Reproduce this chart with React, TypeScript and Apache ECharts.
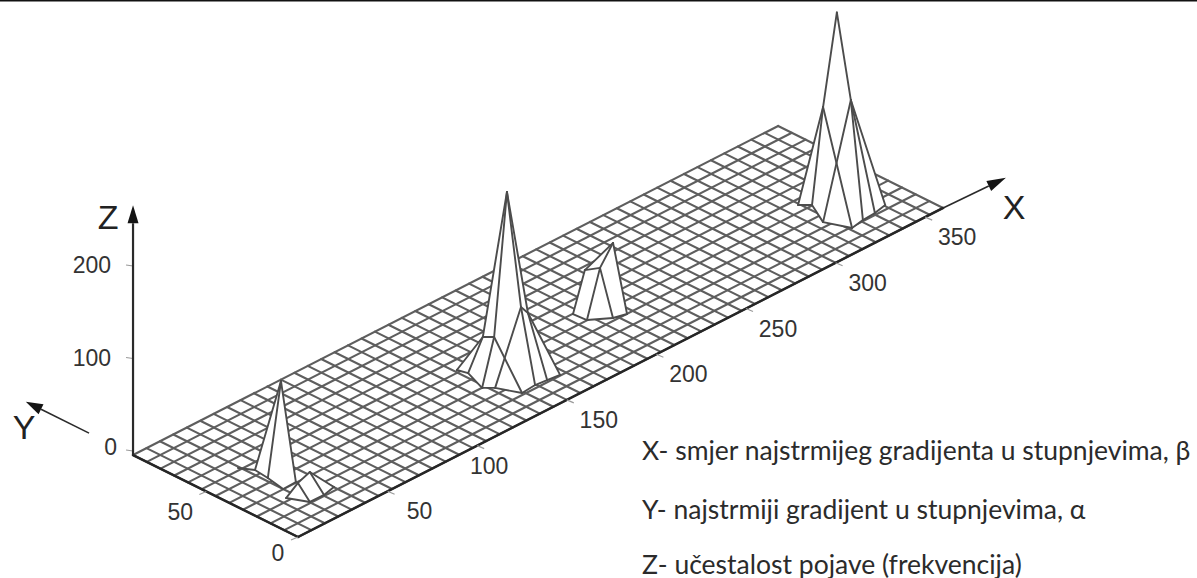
import React, { useEffect, useRef } from "react";
import * as echarts from "echarts";

// ---- axis values (degrees, degrees, frequency) ----
const xTicks = [50, 100, 150, 200, 250, 300, 350];
const yTicks = [0, 50];
const zTicks = [0, 100, 200];
const xMax = 360;
const yMax = 90;
const meshStep = 7.5;

const noteLines = [
  "X- smjer najstrmijeg gradijenta u stupnjevima, β",
  "Y- najstrmiji gradijent u stupnjevima, α",
  "Z- učestalost pojave (frekvencija)",
];

// ---- peaks: vertices are [x, y, z] in data units ----
type V = [number, number, number];
const peak1: V[] = [
  [35.2, 43.7, 90.8], [25.3, 48.2, 0], [24.4, 40.3, 0], [22.5, 30.1, 0], [29.9, 30.4, 0], [21.7, 54, 0],
];
const peak1Outline = [0, 4, 3, 2, 1];
const peak1Edges = [[0, 1], [0, 2], [0, 4], [1, 2], [2, 3], [3, 4], [5, 1]];

const peak1b: V[] = [
  [29.3, 22.2, 19.5], [23.3, 22.8, 13], [18.3, 24.4, 0], [22.7, 15.7, 0], [30.5, 15.6, 0], [37.6, 17.2, 0],
];
const peak1bOutline = [0, 5, 4, 3, 2, 1];
const peak1bEdges = [[0, 1], [1, 2], [1, 3], [0, 4], [0, 5], [2, 3], [3, 4], [4, 5]];

const peak2: V[] = [
  [161.2, 43.6, 170.8], [146.2, 42.1, 30.3], [152.1, 41.7, 24.9], [167.8, 42.4, 41.1], [172.5, 43.2, 29.2],
  [136.3, 46.6, 0], [137.7, 41.8, 0], [133.3, 29.9, 0], [136.9, 26.3, 0], [141.5, 16.1, 0],
  [149.5, 16.8, 0], [155.6, 16.2, 0], [162, 15.4, 0],
];
const peak2Outline = [0, 4, 12, 11, 10, 9, 8, 7, 6, 5, 1];
const peak2Edges = [
  [0, 1], [0, 2], [0, 3], [0, 4], [1, 2], [1, 5], [1, 6], [2, 7], [2, 9], [3, 8], [3, 10], [3, 4], [4, 11], [4, 12],
  [5, 6], [6, 7], [7, 8], [8, 9], [9, 10], [10, 11], [11, 12],
];

const peak2b: V[] = [
  [215.4, 38.7, 67], [210.3, 49.1, 32.4], [211.8, 42.3, 40],
  [199.3, 44.8, 0], [199.8, 37.7, 0], [208.1, 31.6, 0], [214.2, 29.9, 0],
];
const peak2bOutline = [0, 6, 5, 4, 3, 1];
const peak2bEdges = [[0, 1], [0, 2], [1, 2], [0, 6], [1, 3], [2, 4], [2, 5], [3, 4], [4, 5], [5, 6]];

const peak3: V[] = [
  [340.7, 39.1, 192], [333, 39.1, 97.3], [348.4, 39, 89.7],
  [321.7, 41.7, 0], [325.5, 37.8, 0], [319.1, 25.5, 0], [323.8, 14.3, 0],
  [331.2, 15.6, 0], [338.4, 16.1, 0], [345.7, 17.6, 0],
];
const peak3Outline = [0, 2, 9, 8, 7, 6, 5, 4, 3, 1];
const peak3Edges = [
  [0, 1], [0, 2], [1, 3], [1, 4], [1, 6], [2, 5], [2, 7], [2, 8], [2, 9],
  [3, 4], [4, 5], [5, 6], [6, 7], [7, 8], [8, 9],
];

const peaks = [
  { v: peak1, outline: peak1Outline, edges: peak1Edges },
  { v: peak1b, outline: peak1bOutline, edges: peak1bEdges },
  { v: peak2b, outline: peak2bOutline, edges: peak2bEdges },
  { v: peak2, outline: peak2Outline, edges: peak2Edges },
  { v: peak3, outline: peak3Outline, edges: peak3Edges },
];

// ---- oblique projection of (x, y, z) on the flat, hidden cartesian plane ----
const project = (x: number, y: number, z: number): [number, number] => [
  298 + 1.792 * x - 1.833 * y,
  537 - 0.914 * x - 0.911 * y - 0.925 * z,
];

const TEXT = "#333333";
const MESH = "#5e5e5e";
const PEAK = "#4c4c4c";
const EDGE = "#262626";

function lineItem(api: any, a: V, b: V, stroke: string, lineWidth: number) {
  const p = api.coord(project(a[0], a[1], a[2]));
  const q = api.coord(project(b[0], b[1], b[2]));
  return { type: "line", shape: { x1: p[0], y1: p[1], x2: q[0], y2: q[1] }, style: { stroke, lineWidth, lineCap: "round" } };
}

function buildOption() {
  // mesh lines
  const mesh: V[][] = [];
  for (let x = 0; x <= xMax; x += meshStep) mesh.push([[x, 0, 0], [x, yMax, 0]]);
  for (let y = 0; y <= yMax; y += meshStep) mesh.push([[0, y, 0], [xMax, y, 0]]);

  const outlines = peaks.map((p) => p.outline.map((i) => p.v[i]));
  const peakLines: { seg: V[]; group: number }[] = [];
  peaks.forEach((p, k) => p.edges.forEach(([a, b]) => peakLines.push({ seg: [p.v[a], p.v[b]], group: k })));

  const arrows: { from: V; to: V; width: number; head: number; half: number }[] = [
    { from: [xMax, 0, 0], to: [394, -1, 0], width: 1.6, head: 19, half: 5.5 },
    { from: [0, 114, 0], to: [0, 148.5, 0], width: 1.6, head: 17, half: 5.5 },
    { from: [0, yMax, 0], to: [0, yMax, 270], width: 2.2, head: 18, half: 5.5 },
  ];

  const fullAxes: V[][] = [
    [[0, 0, 0], [xMax, 0, 0]],
    [[0, 0, 0], [0, yMax, 0]],
  ];

  const labelItems: { text: string; pos: [number, number]; size: number; align: string }[] = [];
  xTicks.forEach((t) => {
    const p = project(t, 0, 0);
    labelItems.push({ text: String(t), pos: [p[0] + (t === 100 ? 12 : 32), p[1] + 20], size: 23, align: "center" });
  });
  yTicks.forEach((t) => {
    const p = project(0, t, 0);
    labelItems.push({ text: String(t), pos: [p[0] + (t === 0 ? -20 : -26), p[1] + (t === 0 ? 16 : 21)], size: 23, align: "center" });
  });
  const zOrigin = project(0, yMax, 0);
  zTicks.forEach((t) => {
    const p = project(0, yMax, t);
    labelItems.push({ text: String(t), pos: [p[0] + (t === 0 ? -16 : -22), p[1] - 5 + (t === 0 ? -3 : 0)], size: 23, align: "right" });
  });
  labelItems.push({ text: "Z", pos: [zOrigin[0] - 25, 217], size: 34, align: "center" });
  labelItems.push({ text: "Y", pos: [24, 427], size: 34, align: "center" });
  labelItems.push({ text: "X", pos: [1014, 207], size: 34, align: "center" });

  const tickSegs: [number, number, number, number][] = [];
  xTicks.forEach((t) => {
    const p = project(t, 0, 0);
    tickSegs.push([p[0], p[1], p[0] + 7, p[1] + 3]);
  });
  yTicks.forEach((t) => {
    const p = project(0, t, 0);
    tickSegs.push([p[0], p[1], p[0] - 7, p[1] + 3]);
  });
  zTicks.forEach((t) => {
    const p = project(0, yMax, t);
    tickSegs.push([p[0], p[1] - 4, p[0] - 7, p[1] - 5]);
  });

  const common = {
    type: "custom",
    coordinateSystem: "cartesian2d",
    silent: true,
    clip: false,
    animation: false,
  };

  return {
    animation: false,
    backgroundColor: "#ffffff",
    tooltip: { show: false },
    grid: { left: 0, right: 0, top: 0, bottom: 0 },
    xAxis: { type: "value", min: 0, max: 1197, show: false },
    yAxis: { type: "value", min: 0, max: 578, inverse: true, show: false },
    graphic: [
      { type: "rect", left: 0, top: 0, shape: { width: 1197, height: 1.5 }, style: { fill: "#111111" }, silent: true },
      ...noteLines.map((text, i) => ({
        type: "text",
        left: 642,
        top: [436, 495, 550][i],
        silent: true,
        style: { text, fill: "#2b2b2b", font: "26.5px Lato, 'Open Sans', sans-serif" },
      })),
    ],
    series: [
      {
        ...common,
        name: "mesh",
        z: 1,
        data: mesh.map((_, i) => i),
        renderItem: (params: any, api: any) => {
          const [a, b] = mesh[params.dataIndex];
          return lineItem(api, a, b, MESH, 2.1);
        },
      },
      {
        ...common,
        name: "axes",
        z: 2,
        data: fullAxes.map((_, i) => i),
        renderItem: (params: any, api: any) => {
          const [a, b] = fullAxes[params.dataIndex];
          return lineItem(api, a, b, EDGE, 2.5);
        },
      },
      {
        ...common,
        name: "peak faces",
        z: 3,
        data: outlines.map((_, i) => i),
        renderItem: (params: any, api: any) => ({
          type: "polygon",
          shape: { points: outlines[params.dataIndex].map((v) => api.coord(project(v[0], v[1], v[2]))) },
          style: { fill: "#ffffff" },
        }),
      },
      {
        ...common,
        name: "peak lines",
        z: 4,
        data: peakLines.map((_, i) => i),
        renderItem: (params: any, api: any) => {
          const { seg } = peakLines[params.dataIndex];
          return lineItem(api, seg[0], seg[1], PEAK, 1.9);
        },
      },
      {
        ...common,
        name: "ticks",
        z: 5,
        data: tickSegs.map((_, i) => i),
        renderItem: (params: any, api: any) => {
          const s = tickSegs[params.dataIndex];
          const p = api.coord([s[0], s[1]]);
          const q = api.coord([s[2], s[3]]);
          return { type: "line", shape: { x1: p[0], y1: p[1], x2: q[0], y2: q[1] }, style: { stroke: "#9a9a9a", lineWidth: 1.2 } };
        },
      },
      {
        ...common,
        name: "arrows",
        z: 6,
        data: arrows.map((_, i) => i),
        renderItem: (params: any, api: any) => {
          const a = arrows[params.dataIndex];
          const p = api.coord(project(a.from[0], a.from[1], a.from[2]));
          const q = api.coord(project(a.to[0], a.to[1], a.to[2]));
          const len = Math.hypot(q[0] - p[0], q[1] - p[1]);
          const ux = (q[0] - p[0]) / len;
          const uy = (q[1] - p[1]) / len;
          const bx = q[0] - ux * a.head;
          const by = q[1] - uy * a.head;
          return {
            type: "group",
            children: [
              { type: "line", shape: { x1: p[0], y1: p[1], x2: bx, y2: by }, style: { stroke: "#2a2a2a", lineWidth: a.width } },
              {
                type: "polygon",
                shape: { points: [q, [bx - uy * a.half, by + ux * a.half], [bx + uy * a.half, by - ux * a.half]] },
                style: { fill: "#141414" },
              },
            ],
          };
        },
      },
      {
        ...common,
        name: "labels",
        z: 7,
        data: labelItems.map((_, i) => i),
        renderItem: (params: any, api: any) => {
          const l = labelItems[params.dataIndex];
          const p = api.coord(l.pos);
          return {
            type: "text",
            style: {
              text: l.text,
              x: p[0],
              y: p[1],
              fill: l.size > 30 ? "#222222" : TEXT,
              align: l.align,
              verticalAlign: "middle",
              font: `${l.size}px 'Liberation Sans', Arial, sans-serif`,
            },
          };
        },
      },
    ],
  };
}

export default function App() {
  const ref = useRef<HTMLDivElement>(null);
  useEffect(() => {
    document.body.style.margin = "0";
    const chart = echarts.init(ref.current as HTMLDivElement, undefined, { renderer: "svg" });
    chart.setOption(buildOption() as any);
    return () => chart.dispose();
  }, []);
  return <div ref={ref} style={{ width: 1197, height: 578, background: "#fff" }} />;
}
